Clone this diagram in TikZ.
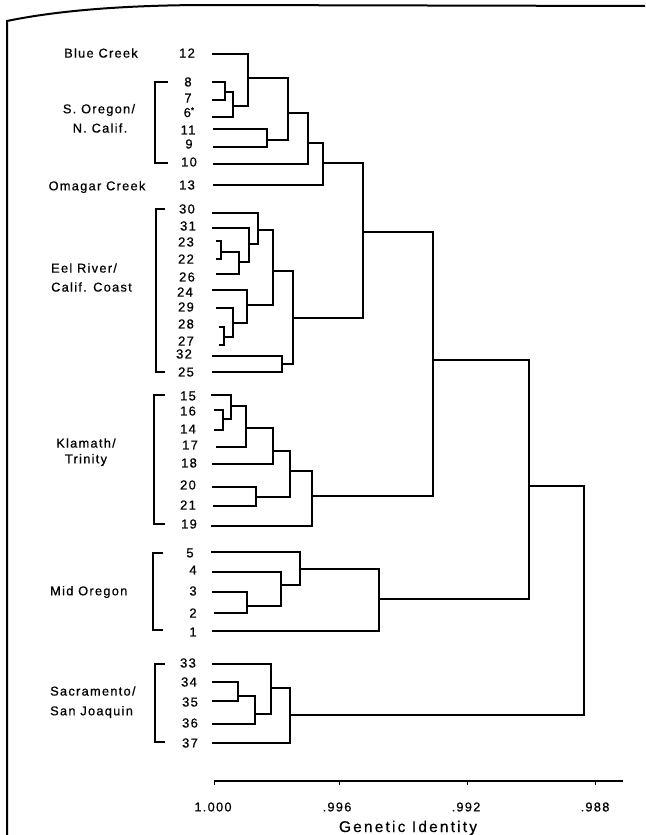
\documentclass[tikz,border=0pt]{standalone}
\usepackage{fontspec}
\setmainfont{Liberation Sans}
\newfontfamily\lsp[LetterSpace=10,FakeBold=0.6]{Liberation Sans}
\newfontfamily\lspw[LetterSpace=14,FakeBold=0.5]{Liberation Sans}
\begin{document}
\begin{tikzpicture}[x=1pt,y=-1pt,
  br/.style={line width=1.3pt, line join=miter},
  num/.style={font=\lsp\fontsize{13}{15}\selectfont, inner sep=0pt},
  grp/.style={font=\lsp\fontsize{12.8}{15}\selectfont, inner sep=0pt},
  tick/.style={font=\lsp\fontsize{12.8}{15}\selectfont, inner sep=0pt},
  axt/.style={font=\lspw\fontsize{15.5}{18}\selectfont, inner sep=0pt}]
\useasboundingbox (0,0) rectangle (645,835);
\fill[white] (0,0) rectangle (645,835);
% page border
\draw[line width=2pt] (7,835) -- (7,21) .. controls (60,10) and (130,5) .. (210,5) -- (645,6);
% leaf start points
\foreach \n/\x/\y in {12/212/54, 8/212/82, 7/212/100, 6/212/117, 11/213/129, 9/213/147, 10/213/164, 13/213/185,
  30/212/213, 31/212/228, 23/216/241, 22/216/259, 26/216/274, 24/212/290, 29/216/308, 28/219/327, 27/219/345, 32/212/356, 25/212/372,
  15/211/395, 16/214/410, 14/214/430, 17/216/447, 18/212/464, 20/212/487, 21/213/506, 19/211/526,
  5/211/552, 4/212/572, 3/212/592, 2/214/613, 1/212/631,
  33/212/664, 34/212/682, 35/212/701, 36/212/724, 37/212/743}
  \coordinate (L\n) at (\x,\y);
% leaf labels
\foreach \n/\t/\x/\y in {12/12/187/53, 8/8/188/82, 7/7/188/98, 11/11/188/130, 9/9/189/144, 10/10/189/162, 13/13/187/185,
  30/30/187/209, 31/31/188/226, 23/23/186/242, 22/22/186/259, 26/26/187/277, 24/24/185/292, 29/29/186/307, 28/28/186/324, 27/27/186/341, 32/32/184/354, 25/25/186/372,
  15/15/188/396, 16/16/188/411, 14/14/188/429, 17/17/190/445, 18/18/189/463, 20/20/188/485, 21/21/188/505, 19/19/189/524,
  5/5/190/553, 4/4/193/570, 3/3/193/591, 2/2/193/613, 1/1/193/632,
  33/33/188/663, 34/34/189/682, 35/35/190/702, 36/36/190/723, 37/37/190/743}
  \node[num] (n\n) at (\x,\y) {\t};
\node[num, anchor=base west] (n6) at (183.5,117) {6\raisebox{4pt}{\fontsize{8}{8}\selectfont *}};
% internal nodes
\coordinate (a1) at (225,92);  \coordinate (a2) at (233,106); \coordinate (a3) at (248,78);
\coordinate (a4) at (267,140); \coordinate (a5) at (288,113); \coordinate (a6) at (308,143);
\coordinate (a7) at (323,163);
\coordinate (e1) at (221,252); \coordinate (e2) at (239,262); \coordinate (e3) at (249,244);
\coordinate (e4) at (258,230); \coordinate (e5) at (224,337); \coordinate (e6) at (233,323);
\coordinate (e7) at (247,305); \coordinate (e8) at (273,271); \coordinate (e9) at (282,364);
\coordinate (e10) at (293,318);
\coordinate (t1) at (363,232);
\coordinate (k1) at (223,419); \coordinate (k2) at (231,406); \coordinate (k3) at (246,428);
\coordinate (k4) at (273,451); \coordinate (k5) at (256,497); \coordinate (k6) at (290,471);
\coordinate (k7) at (312,496);
\coordinate (t2) at (433,360);
\coordinate (m1) at (247,606); \coordinate (m2) at (281,585); \coordinate (m3) at (300,569);
\coordinate (m4) at (379,599);
\coordinate (t3) at (529,486);
\coordinate (s1) at (238,696); \coordinate (s2) at (255,714); \coordinate (s3) at (271,688);
\coordinate (s4) at (290,715);
\coordinate (t4) at (584,600);
% top cluster
\draw[br] (L8) -| (a1) |- (L7);
\draw[br] (a1) -| (a2) |- (L6);
\draw[br] (L12) -| (a3) |- (a2);
\draw[br] (L11) -| (a4) |- (L9);
\draw[br] (a3) -| (a5) |- (a4);
\draw[br] (a5) -| (a6) |- (L10);
\draw[br] (a6) -| (a7) |- (L13);
% Eel River
\draw[br] (L23) -| (e1) |- (L22);
\draw[br] (e1) -| (e2) |- (L26);
\draw[br] (L31) -| (e3) |- (e2);
\draw[br] (L30) -| (e4) |- (e3);
\draw[br] (L28) -| (e5) |- (L27);
\draw[br] (L29) -| (e6) |- (e5);
\draw[br] (L24) -| (e7) |- (e6);
\draw[br] (e4) -| (e8) |- (e7);
\draw[br] (L32) -| (e9) |- (L25);
\draw[br] (e8) -| (e10) |- (e9);
\draw[br] (a7) -| (t1) |- (e10);
% Klamath
\draw[br] (L16) -| (k1) |- (L14);
\draw[br] (L15) -| (k2) |- (k1);
\draw[br] (k2) -| (k3) |- (L17);
\draw[br] (k3) -| (k4) |- (L18);
\draw[br] (L20) -| (k5) |- (L21);
\draw[br] (k4) -| (k6) |- (k5);
\draw[br] (k6) -| (k7) |- (L19);
\draw[br] (t1) -| (t2) |- (k7);
% Mid Oregon
\draw[br] (L3) -| (m1) |- (L2);
\draw[br] (L4) -| (m2) |- (m1);
\draw[br] (L5) -| (m3) |- (m2);
\draw[br] (m3) -| (m4) |- (L1);
\draw[br] (t2) -| (t3) |- (m4);
% Sacramento
\draw[br] (L34) -| (s1) |- (L35);
\draw[br] (s1) -| (s2) |- (L36);
\draw[br] (L33) -| (s3) |- (s2);
\draw[br] (s3) -| (s4) |- (L37);
\draw[br] (t3) -| (t4) |- (s4);
% brackets
\draw[br] (168,82) -- (155,82) -- (155,163) -- (168,163);
\draw[br] (165,209) -- (156,209) -- (156,372) -- (165,372);
\draw[br] (165,395) -- (154,395) -- (154,524) -- (165,524);
\draw[br] (163,553) -- (153,553) -- (153,630) -- (163,630);
\draw[br] (165,664) -- (155,664) -- (155,742) -- (165,742);
% group labels
\node[grp] (g1) at (101,53) {Blue Creek};
\node[grp] (g2) at (99,110) {S. Oregon/};
\node[grp] (g3) at (100,128) {N. Calif.};
\node[grp] (g4) at (97,187) {Omagar Creek};
\node[grp, anchor=west] (g5) at (51,268) {Eel River/};
\node[grp, anchor=west] (g6) at (51,287) {Calif. Coast};
\node[grp] (g7) at (86,443) {Klamath/};
\node[grp] (g8) at (86,460) {Trinity};
\node[grp, anchor=west] (g9) at (50,592) {Mid Oregon};
\node[grp, anchor=west] (g10) at (50,691) {Sacramento/};
\node[grp, anchor=west] (g11) at (50,712) {San Joaquin};
% axis
\draw[line width=1.2pt] (214,781) -- (623,781);
\foreach \x in {214,339,467,595} \draw[line width=1pt] (\x,781) -- (\x,785);
\node[tick] (x1) at (213,807) {1.000};
\node[tick] (x2) at (337,807) {.996};
\node[tick] (x3) at (466,807) {.992};
\node[tick] (x4) at (595,807) {.988};
\node[axt] (xl) at (408,828) {Genetic Identity};
\end{tikzpicture}
\end{document}
